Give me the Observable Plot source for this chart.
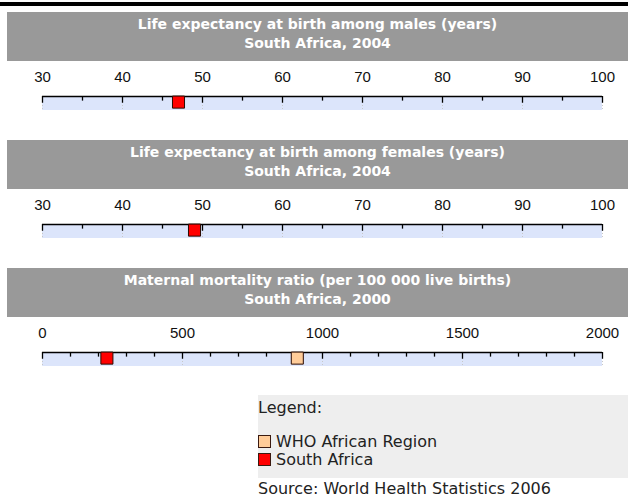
<!DOCTYPE html>
<html><head><meta charset="utf-8">
<script src="https://cdn.jsdelivr.net/npm/d3@7"></script>
<script src="https://cdn.jsdelivr.net/npm/@observablehq/plot@0.6"></script>
<style>
body{margin:0;background:#fff;width:628px;height:498px;position:relative;overflow:hidden;font-family:"DejaVu Sans",Verdana,sans-serif}
.topbar{position:absolute;left:0;top:2px;width:628px;height:4px;background:#000}
.title{position:absolute;left:7px;width:621px;height:49px;background:#999;color:#fff;font-weight:bold;font-size:14px;text-align:center;line-height:19px;padding-top:3px;box-sizing:border-box}
.panel{position:absolute;left:0}
.legend{position:absolute;left:258px;top:395px;width:370px;height:83px;background:#eeeeee;font-size:16px;color:#222}
.legend .row{position:absolute;left:0;display:flex;align-items:center;height:17px;white-space:nowrap}
.legend .sw{width:11px;height:11px;border:1px solid #3a1a10;margin-right:5px}
.source{position:absolute;left:258px;top:480px;font-size:16px;color:#222;line-height:18px;white-space:nowrap}
</style></head>
<body>
<div class="topbar"></div>
<div id="root"></div>
<script>
// ---- data ----
const panelTitles = ["Life expectancy at birth among males (years)", "Life expectancy at birth among females (years)", "Maternal mortality ratio (per 100 000 live births)"];
const panelSubtitles = ["South Africa, 2004", "South Africa, 2004", "South Africa, 2000"];
const axisMin = [30, 30, 0];
const axisMax = [100, 100, 2000];
const lifeMajorTicks = [30, 40, 50, 60, 70, 80, 90, 100];
const lifeMinorTicks = [35, 45, 55, 65, 75, 85, 95];
const mmrMajorTicks = [0, 500, 1000, 1500, 2000];
const mmrMinorTicks = [100, 200, 300, 400, 600, 700, 800, 900, 1100, 1200, 1300, 1400, 1600, 1700, 1800, 1900];
const seriesNames = ["WHO African Region", "South Africa"];
const seriesColors = ["#ffcc99", "#ff0000"];
const southAfricaValues = [47, 49, 230];
const whoAfricanRegionValues = [null, null, 910];

const majorTicks = [lifeMajorTicks, lifeMajorTicks, mmrMajorTicks];
const minorTicks = [lifeMinorTicks, lifeMinorTicks, mmrMinorTicks];

const boxTops = [12, 140, 268];

panelTitles.forEach((t, i) => {
  const title = document.createElement("div");
  title.className = "title";
  title.style.top = boxTops[i] + "px";
  title.innerHTML = `<div>${t}</div><div>${panelSubtitles[i]}</div>`;
  document.body.appendChild(title);

  const markers = [];
  if (whoAfricanRegionValues[i] != null) markers.push({series: seriesNames[0], value: whoAfricanRegionValues[i]});
  if (southAfricaValues[i] != null) markers.push({series: seriesNames[1], value: southAfricaValues[i]});

  const chart = Plot.plot({
    width: 628,
    height: 79,
    marginLeft: 42,
    marginRight: 26,
    marginTop: 35,
    marginBottom: 30,
    x: {domain: [axisMin[i], axisMax[i]], axis: null},
    y: {domain: [0, 1], reverse: true, axis: null},
    color: {domain: seriesNames, range: seriesColors},
    marks: [
      Plot.rect([{a: axisMin[i], b: axisMax[i]}], {x1: "a", x2: "b", y1: 0, y2: 1, fill: "#dce5fb"}),
      Plot.ruleX(majorTicks[i], {x: d => d, y1: 0, y2: 1, stroke: "#c8c8c8", strokeDasharray: "1,2"}),
      Plot.ruleY([0], {y: d => d, stroke: "#000", strokeWidth: 1.3}),
      Plot.ruleX(majorTicks[i], {x: d => d, y1: 0, y2: 0.48, stroke: "#000", strokeWidth: 1.3}),
      Plot.ruleX(minorTicks[i], {x: d => d, y1: 0, y2: 0.33, stroke: "#000", strokeWidth: 1.3}),
      Plot.text(majorTicks[i], {x: d => d, y: 0, dy: -19, text: d => String(d), fontSize: 15, fontFamily: "Liberation Sans, Arial, sans-serif", fill: "#111"}),
      Plot.dot(markers, {x: "value", y: 0.4, symbol: "square", r: 6.8, fill: "series", stroke: "#2a0a00", strokeWidth: 1})
    ]
  });
  const wrap = document.createElement("div");
  wrap.className = "panel";
  wrap.style.top = (boxTops[i] + 49) + "px";
  wrap.appendChild(chart);
  document.body.appendChild(wrap);
});

// legend
const legend = document.createElement("div");
legend.className = "legend";
const lt = document.createElement("div");
lt.className = "row";
lt.style.top = "4px";
lt.textContent = "Legend:";
legend.appendChild(lt);
seriesNames.forEach((name, j) => {
  const row = document.createElement("div");
  row.className = "row";
  row.style.top = (38 + j * 18) + "px";
  const sw = document.createElement("div");
  sw.className = "sw";
  sw.style.background = seriesColors[j];
  row.appendChild(sw);
  const tx = document.createElement("span");
  tx.textContent = name;
  row.appendChild(tx);
  legend.appendChild(row);
});
document.body.appendChild(legend);
const src = document.createElement("div");
src.className = "source";
src.textContent = "Source: World Health Statistics 2006";
document.body.appendChild(src);
</script>
</body></html>
